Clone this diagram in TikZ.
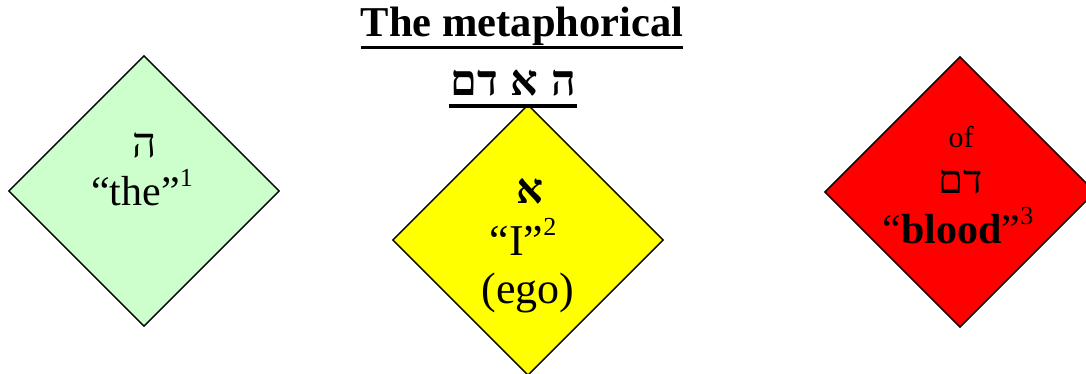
\documentclass[tikz,border=0pt]{standalone}
\usepackage{fontspec}
\setmainfont{Liberation Serif}
\newfontfamily\hebfont[Script=Hebrew]{Liberation Serif}
\TeXXeTstate=1
\usetikzlibrary{shapes.geometric,calc}
\newcommand{\supnum}[1]{\raisebox{0.45em}{\fontsize{26}{26}\selectfont #1}}
\definecolor{palegreen}{HTML}{CCFFCC}
\definecolor{brightyellow}{HTML}{FFFF00}
\definecolor{brightred}{HTML}{FF0000}
\begin{document}
\begin{tikzpicture}[x=1pt,y=1pt,
  dia/.style={diamond, draw=black, line width=1.4pt, minimum width=271pt, minimum height=271pt, inner sep=0pt},
  txt/.style={anchor=base, inner sep=0pt},
  uline/.style={line width=3.5pt}]
\useasboundingbox (0,0) rectangle (1086,373);
\clip (0,0) rectangle (1086,373);
% diamonds
\node[dia, fill=palegreen] (green) at (144,182) {};
\node[dia, fill=brightred] (red) at (960,181) {};
\node[dia, fill=brightyellow] (yellow) at (528,133) {};
% title
\node[txt, font=\fontsize{42.5}{48}\selectfont\bfseries] (title) at (522,336) {The metaphorical};
\draw[uline] ($(title.base west)+(0,-10.5)$) coordinate (t1) -- ($(title.base east)+(0,-10.5)$) coordinate (t2);
\node[txt, font=\fontsize{43}{52}\selectfont\bfseries\hebfont] (heb) at (513,278) {\beginR ה\hspace{0.3em}א\hspace{0.3em}דם\endR};
\draw[uline] ($(heb.base west)+(-1,-11)$) coordinate (h1) -- ($(heb.base east)+(1,-11)$) coordinate (h2);
% green text
\node[txt, font=\fontsize{42}{48}\selectfont\hebfont] (g1) at (145,216) {\beginR ה\endR};
\node[txt, font=\fontsize{42}{48}\selectfont] (g2) at (142,168) {“the”\supnum{1}};
% yellow text
\node[txt, font=\fontsize{42}{48}\selectfont\bfseries\hebfont] (y1) at (530,170) {\beginR א\endR};
\node[txt, font=\fontsize{44}{48}\selectfont] (y2) at (523,118) {“I”\supnum{2}};
\node[txt, font=\fontsize{44}{48}\selectfont] (y3) at (528,70) {(ego)};
% red text
\node[txt, font=\fontsize{30}{36}\selectfont] (r1) at (961,226) {of};
\node[txt, font=\fontsize{40}{48}\selectfont\hebfont] (r2) at (961,180) {\beginR דם\endR};
\node[txt, font=\fontsize{42}{48}\selectfont] (r3) at (958,130) {“\textbf{blood}”\supnum{3}};
\end{tikzpicture}
\end{document}
